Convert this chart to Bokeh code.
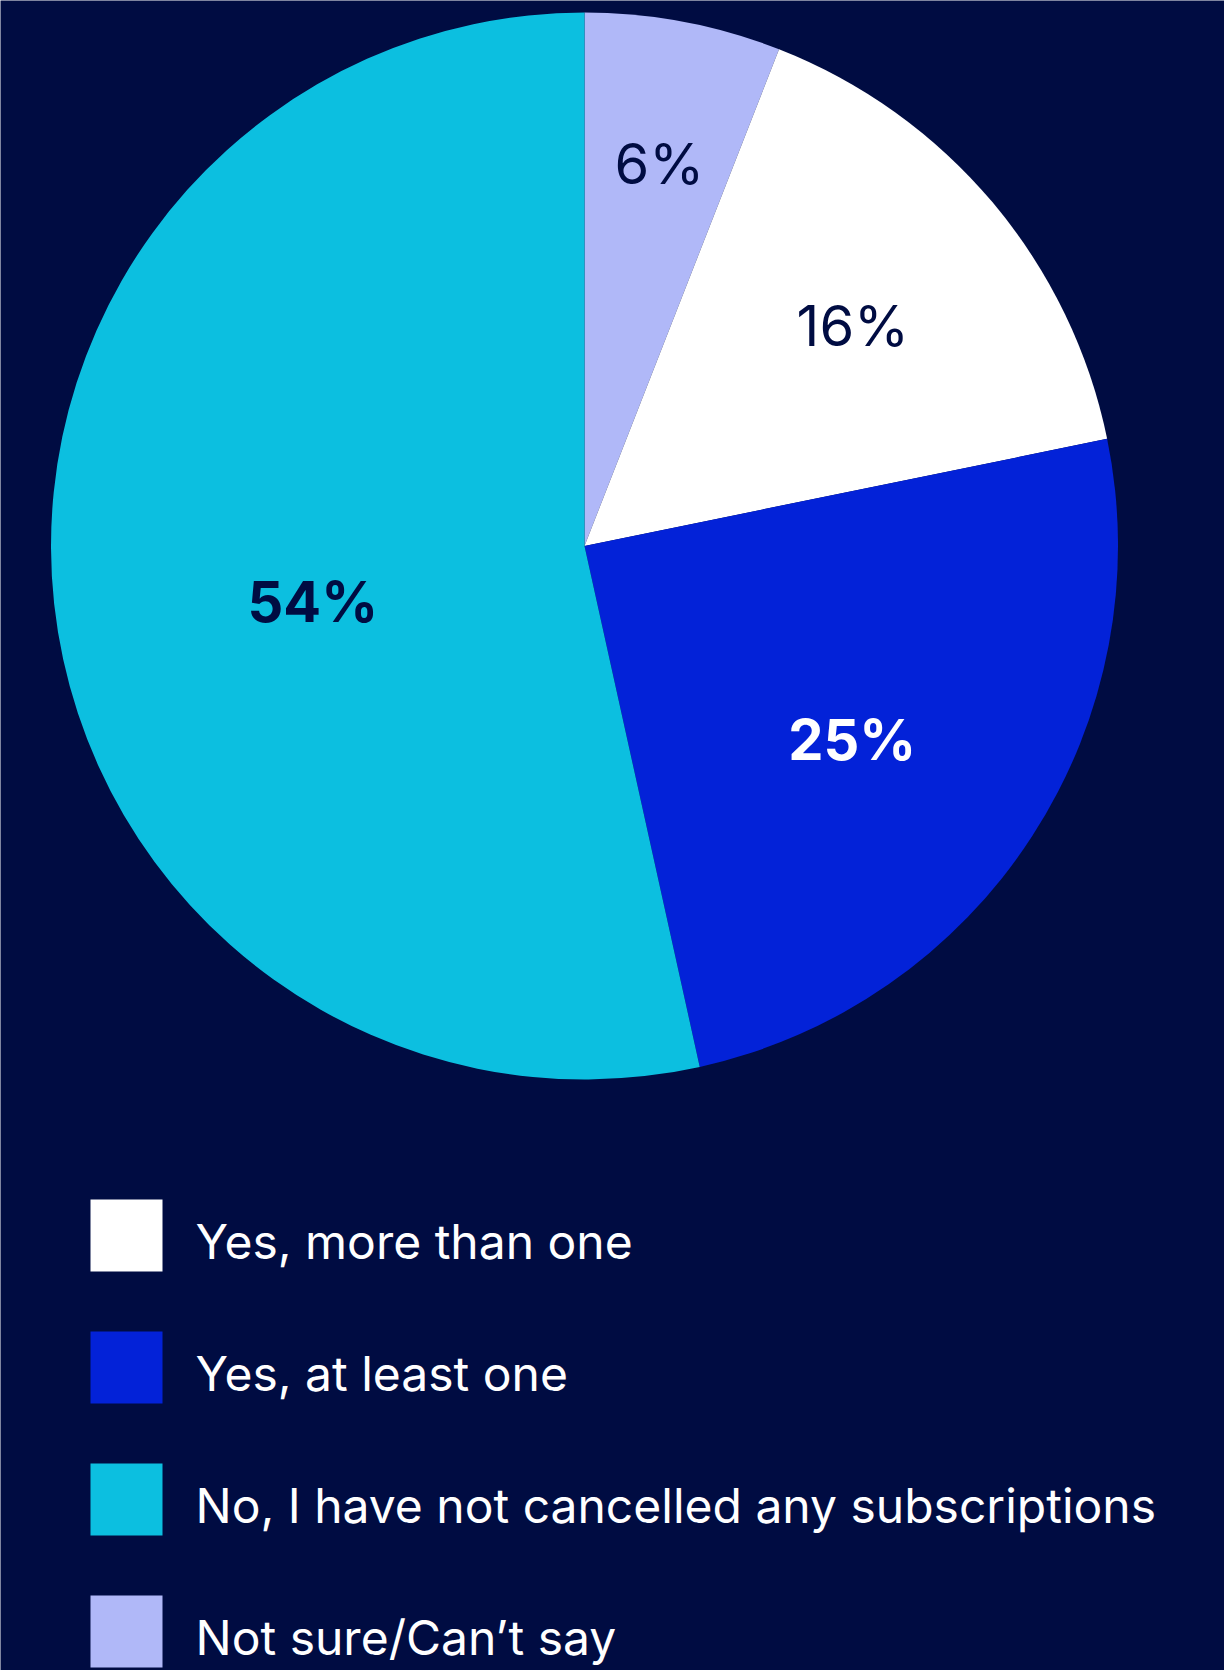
import math
from bokeh.plotting import figure
from bokeh.models import ColumnDataSource, Range1d
from bokeh.core.properties import value
from bokeh.embed import file_html
from bokeh.resources import INLINE

# ---- data ----
categories = ["Not sure/Can\u2019t say", "Yes, more than one", "Yes, at least one",
              "No, I have not cancelled any subscriptions"]
values = [6, 16, 25, 54]
pct_labels = ["6%", "16%", "25%", "54%"]
legend_order = ["Yes, more than one", "Yes, at least one",
                "No, I have not cancelled any subscriptions", "Not sure/Can\u2019t say"]

# ---- style ----
BG = "#000c42"
colors = {"Not sure/Can\u2019t say": "#b0b8f8", "Yes, more than one": "#ffffff",
          "Yes, at least one": "#0322d8", "No, I have not cancelled any subscriptions": "#0cbfe0"}
label_colors = ["#000c42", "#000c42", "#ffffff", "#000c42"]
label_styles = ["normal", "normal", "bold", "bold"]
label_rfac = [0.73, 0.65, 0.62, 0.52]
label_nudge_deg = [0.4, 0.8, 3.0, -5.4]
FONT = "Inter"

W, H = 1224, 1670
CX, CY, R = 584, H - 545.5, 533.5

p = figure(width=W, height=H, output_backend="svg", toolbar_location=None,
           x_range=Range1d(0, W), y_range=Range1d(0, H), min_border=0)
p.axis.visible = False
p.grid.visible = False
p.outline_line_color = None
p.background_fill_color = BG
p.border_fill_color = BG

total = sum(values)
starts, ends, cols, lx, ly = [], [], [], [], []
cum = 0.0
for i, (c, v) in enumerate(zip(categories, values)):
    f0 = cum / total
    f1 = (cum + v) / total
    starts.append(math.pi / 2 - f0 * 2 * math.pi)
    ends.append(math.pi / 2 - f1 * 2 * math.pi)
    cols.append(colors[c])
    mid = (f0 + f1) / 2 * 360 + label_nudge_deg[i]
    a = math.radians(90 - mid)
    lx.append(CX + label_rfac[i] * R * math.cos(a))
    ly.append(CY + label_rfac[i] * R * math.sin(a))
    cum += v

src = ColumnDataSource(dict(start=starts, end=ends, color=cols))
p.wedge(x=CX, y=CY, radius=R, start_angle="start", end_angle="end", direction="clock",
        fill_color="color", line_color=None, source=src)

lsrc = ColumnDataSource(dict(x=lx, y=ly, t=pct_labels, c=label_colors, s=label_styles))
p.text(x="x", y="y", text="t", text_color="c", text_font_style="s", source=lsrc,
       text_font=value(FONT), text_font_size="56px", text_align="center",
       text_baseline="middle")

# legend
ROW0, STEP, SQ = 1235, 132, 72
sq_y = [H - (ROW0 + k * STEP) for k in range(len(legend_order))]
txt_y = [y - 6 for y in sq_y]
leg = ColumnDataSource(dict(x=[126] * len(legend_order), y=sq_y, ty=txt_y,
                            c=[colors[n] for n in legend_order], t=legend_order))
p.rect(x="x", y="y", width=SQ, height=SQ, fill_color="c", line_color=None, source=leg)
p.text(x=195, y="ty", text="t", source=leg, text_color="#ffffff", text_font=value(FONT),
       text_font_size="48px", text_baseline="alphabetic", text_align="left")

open("out.html", "w").write(file_html(p, INLINE))
